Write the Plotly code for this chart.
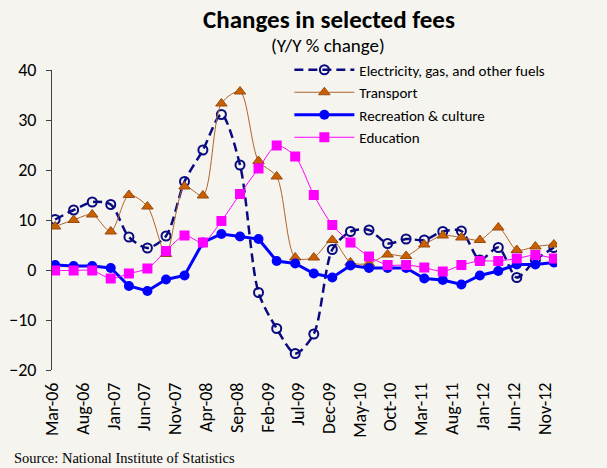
import plotly.graph_objects as go

# ---------------- data ----------------
dates = ["2006-03", "2006-06", "2006-09", "2006-12",
         "2007-03", "2007-06", "2007-09", "2007-12",
         "2008-03", "2008-06", "2008-09", "2008-12",
         "2009-03", "2009-06", "2009-09", "2009-12",
         "2010-03", "2010-06", "2010-09", "2010-12",
         "2011-03", "2011-06", "2011-09", "2011-12",
         "2012-03", "2012-06", "2012-09", "2012-12"]

electricity = [10.1, 12.0, 13.6, 13.1, 6.6, 4.4, 6.8, 17.7, 24.0, 31.1, 21.0, -4.5, -11.7, -16.7,
               -12.8, 4.1, 7.7, 8.0, 5.3, 6.2, 6.0, 7.7, 7.8, 2.0, 4.5, -1.5, 2.0, 4.5]
transport = [8.7, 10.0, 11.1, 7.7, 15.0, 12.7, 3.2, 16.7, 14.9, 33.3, 35.7, 21.8, 18.7, 2.5,
             2.5, 6.0, 1.5, 1.3, 3.1, 2.8, 5.1, 6.9, 6.5, 6.0, 8.5, 4.0, 4.7, 5.1]
recreation = [1.0, 0.8, 0.8, 0.4, -3.2, -4.2, -1.9, -1.1, 5.5, 7.2, 6.7, 6.2, 1.8, 1.3,
              -0.7, -1.5, 0.9, 0.4, 0.4, 0.4, -1.7, -2.0, -2.9, -1.1, -0.2, 1.1, 1.1, 1.5]
education = [-0.1, -0.1, -0.1, -1.7, -0.7, 0.3, 3.8, 6.9, 5.5, 9.8, 15.2, 20.3, 24.9, 22.7,
             15.0, 9.0, 5.5, 2.7, 1.0, 1.0, 0.5, -0.3, 1.0, 1.8, 1.8, 2.3, 3.0, 2.3]

tick_dates = ["2006-03-01", "2006-08-01", "2007-01-01", "2007-06-01", "2007-11-01",
              "2008-04-01", "2008-09-01", "2009-02-01", "2009-07-01", "2009-12-01",
              "2010-05-01", "2010-10-01", "2011-03-01", "2011-08-01", "2012-01-01",
              "2012-06-01", "2012-11-01"]
tick_labels = ["Mar-06", "Aug-06", "Jan-07", "Jun-07", "Nov-07", "Apr-08", "Sep-08",
               "Feb-09", "Jul-09", "Dec-09", "May-10", "Oct-10", "Mar-11", "Aug-11",
               "Jan-12", "Jun-12", "Nov-12"]

x_range = ["2006-03-01", "2013-01-01"]
y_range = [-20, 40]
axis_cross = -9

FONT = "Calibri, Carlito, Lato, sans-serif"
BG = "#F5F4EF"
AX = "#404040"

fig = go.Figure()
common = dict(x=dates, xperiod="M1", xperiodalignment="middle", mode="lines+markers")

fig.add_trace(go.Scatter(
    name="Electricity, gas, and other fuels", y=electricity,
    line=dict(color="#0A0A80", width=2.5, dash="9px,5px", shape="spline", smoothing=0.8),
    marker=dict(symbol="circle-open", size=9, color="#0A0A80", line=dict(width=2)),
    **common))
fig.add_trace(go.Scatter(
    name="Transport", y=transport,
    line=dict(color="#B0652A", width=1, shape="spline", smoothing=0.8),
    marker=dict(symbol="triangle-up", size=10, color="#C86000", line=dict(width=1, color="#9A4A10")),
    **common))
fig.add_trace(go.Scatter(
    name="Recreation & culture", y=recreation,
    line=dict(color="#0000FF", width=3),
    marker=dict(symbol="circle", size=10, color="#0000FF"),
    **common))
fig.add_trace(go.Scatter(
    name="Education", y=education,
    line=dict(color="#FF00FF", width=1, shape="spline", smoothing=0.8),
    marker=dict(symbol="square", size=10, color="#FF00FF"),
    **common))

fig.update_layout(
    width=607, height=468,
    margin=dict(l=52, r=50, t=70, b=98, autoexpand=False),
    paper_bgcolor=BG, plot_bgcolor=BG,
    font=dict(family=FONT, color="#000000"),
    title=dict(text="<b>Changes in selected fees</b>", x=0.542, xanchor="center",
               y=1 - 19 / 468, yanchor="middle", font=dict(size=25, family=FONT)),
    showlegend=True,
    legend=dict(x=0.47, y=1.055, xanchor="left", yanchor="top", bgcolor="rgba(0,0,0,0)",
                font=dict(size=15, family=FONT), itemwidth=60, tracegroupgap=0),
    xaxis=dict(type="date", range=x_range, tickvals=tick_dates, ticktext=tick_labels,
               tickangle=-90, tickfont=dict(size=18), showgrid=False, showline=False,
               ticks="", zeroline=False, ticklabelstandoff=8),
    xaxis2=dict(type="date", range=x_range, tickvals=tick_dates, overlaying="x",
                anchor="free", position=(axis_cross - y_range[0]) / (y_range[1] - y_range[0]),
                showticklabels=False, ticks="outside", ticklen=6, tickcolor=AX,
                showline=True, linecolor=AX, linewidth=1, showgrid=False, zeroline=False),
    yaxis=dict(range=y_range, dtick=10, showgrid=False, zeroline=False, showline=True,
               linecolor=AX, ticks="outside", ticklen=5, tickcolor=AX,
               tickfont=dict(size=18), ticklabelstandoff=6),
    yaxis2=dict(range=y_range, dtick=10, overlaying="y", side="right", showgrid=False,
                zeroline=False, showline=True, linecolor=AX, ticks="outside",
                ticklen=5, tickcolor=AX, tickfont=dict(size=18), ticklabelstandoff=7),
    annotations=[
        dict(text="(Y/Y % change)", x=0.5465, y=1 + 25 / 300, xref="paper", yref="paper",
             showarrow=False, font=dict(size=19, family=FONT), xanchor="center", yanchor="middle"),
        dict(text="Source: National Institute of Statistics", x=-0.079, y=-88 / 300,
             xref="paper", yref="paper", showarrow=False, xanchor="left", yanchor="middle",
             font=dict(size=14.5, family="Liberation Serif, Times New Roman, serif")),
    ],
)

fig.write_html("out.html", config={"displayModeBar": False},
               post_script="document.body.style.margin='0px';")
